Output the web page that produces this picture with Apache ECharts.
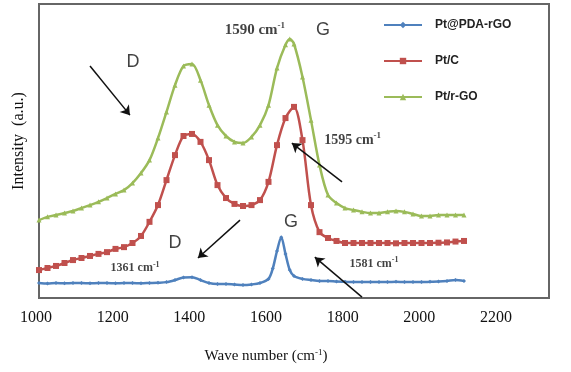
<!DOCTYPE html>
<html>
<head>
<meta charset="utf-8">
<script src="https://cdn.jsdelivr.net/npm/echarts@6/dist/echarts.min.js"></script>
<style>
  html, body { margin: 0; padding: 0; background: #fff; }
  #chart { width: 571px; height: 372px; }
</style>
</head>
<body>
<div id="chart"></div>
<script>
// x tick labels
const xMin = 1000
const xMax = 2200
const xStep = 200

// Pt@PDA-rGO (blue)
const blueX = [1000, 1020, 1040, 1060, 1080, 1100, 1120, 1140, 1160, 1180, 1200, 1220, 1240, 1260, 1280, 1300, 1320, 1340, 1360, 1380, 1400, 1420, 1440, 1460, 1480, 1500, 1520, 1540, 1550, 1560, 1570, 1580, 1590, 1600, 1620, 1640, 1660, 1680, 1700, 1720, 1740, 1760, 1780, 1800, 1820, 1840, 1860, 1880, 1900, 1920, 1940, 1960, 1980, 2000]
const blueY = [5.1, 4.9, 5.1, 5.0, 5.1, 5.1, 5.0, 5.1, 5.1, 5.0, 5.1, 5.1, 5.0, 5.1, 5.2, 5.4, 6.1, 7.0, 7.1, 6.1, 5.1, 4.8, 4.8, 4.6, 4.4, 4.6, 5.1, 6.5, 10.0, 16.0, 20.7, 15.0, 9.5, 7.5, 6.5, 6.1, 5.8, 5.8, 5.6, 5.5, 5.4, 5.4, 5.4, 5.4, 5.4, 5.5, 5.4, 5.4, 5.4, 5.5, 5.6, 5.8, 6.1, 5.8]

// Pt/C (red)
const redX = [1000, 1020, 1040, 1060, 1080, 1100, 1120, 1140, 1160, 1180, 1200, 1220, 1240, 1260, 1280, 1300, 1320, 1340, 1360, 1380, 1400, 1420, 1440, 1460, 1480, 1500, 1520, 1540, 1560, 1580, 1600, 1620, 1640, 1660, 1680, 1700, 1720, 1740, 1760, 1780, 1800, 1820, 1840, 1860, 1880, 1900, 1920, 1940, 1960, 1980, 2000]
const redY = [9.5, 10.2, 10.9, 11.9, 12.9, 13.6, 14.3, 15.0, 15.6, 16.7, 17.3, 18.7, 21.1, 25.9, 31.6, 40.1, 48.6, 55.1, 55.8, 53.1, 46.9, 38.4, 34.0, 32.0, 31.3, 31.6, 33.3, 39.5, 52.0, 61.2, 65.0, 53.7, 31.6, 22.4, 20.4, 19.4, 18.7, 18.7, 18.7, 18.7, 18.7, 18.7, 18.6, 18.7, 18.7, 18.7, 18.7, 18.8, 18.9, 19.2, 19.4]

// Pt/r-GO (green)
const greenX = [1000, 1020, 1040, 1060, 1080, 1100, 1120, 1140, 1160, 1180, 1200, 1220, 1240, 1260, 1280, 1300, 1320, 1340, 1360, 1380, 1400, 1420, 1440, 1460, 1480, 1500, 1520, 1540, 1560, 1580, 1590, 1600, 1620, 1640, 1660, 1680, 1700, 1720, 1740, 1760, 1780, 1800, 1820, 1840, 1860, 1880, 1900, 1920, 1940, 1960, 1980, 2000]
const greenY = [26.5, 27.6, 28.2, 28.9, 29.6, 30.6, 31.6, 32.7, 34.0, 35.4, 36.7, 39.1, 42.5, 46.9, 54.4, 63.3, 72.4, 78.9, 79.6, 74.1, 65.6, 58.8, 55.1, 53.1, 52.7, 54.8, 58.8, 65.6, 78.2, 86.1, 88.1, 86.4, 75.2, 60.5, 45.2, 35.0, 32.3, 30.6, 29.9, 29.3, 28.9, 28.9, 29.3, 29.6, 29.3, 28.6, 27.9, 27.9, 28.2, 28.2, 28.2, 28.2]

const seriesNames = ["Pt@PDA-rGO", "Pt/C", "Pt/r-GO"]
const colors = ["#4f81bd", "#c0504d", "#9bbb59"]

// annotations (data coords)
const annoX = [1221, 1668, 1508, 1738, 1320, 1593, 1226, 1788]
const annoY = [80.3, 91.2, 91.2, 53.7, 18.7, 25.9, 10.2, 11.6]
const annoText = ["D", "G", "1590", "1595", "D", "G", "1361", "1581"]
const annoStyle = ["letter", "letter", "big", "mid", "letter", "letter", "small", "small"]

// arrows: [fromX, fromY, toX, toY]
const arrows = [
  [1120, 78.9, 1214, 62.2],
  [1713, 39.5, 1595, 52.7],
  [1473, 26.5, 1374, 13.6],
  [1760, 0.3, 1649, 13.9],
]

const zip = (xs, ys) => xs.map((x, i) => [x, ys[i]])

const chart = echarts.init(document.getElementById("chart"), null, { renderer: "canvas" })

const serif = "'Liberation Serif', 'Times New Roman', serif"
const sans = "'Liberation Sans', Arial, sans-serif"

const labelRich = {
  letter: { fontFamily: sans, fontSize: 18, color: "#111" },
  big: { fontFamily: serif, fontSize: 15, fontWeight: "bold", color: "#111" },
  bigU: { fontFamily: serif, fontSize: 15, fontWeight: "bold", color: "#111" },
  bigS: { fontFamily: serif, fontSize: 9, fontWeight: "bold", color: "#111", padding: [0, 0, 9, 0] },
  mid: { fontFamily: serif, fontSize: 14, fontWeight: "bold", color: "#111" },
  midU: { fontFamily: serif, fontSize: 14, fontWeight: "bold", color: "#111" },
  midS: { fontFamily: serif, fontSize: 9, fontWeight: "bold", color: "#111", padding: [0, 0, 8, 0] },
  small: { fontFamily: serif, fontSize: 12, fontWeight: "bold", color: "#111" },
  smallU: { fontFamily: serif, fontSize: 12, fontWeight: "bold", color: "#111" },
  smallS: { fontFamily: serif, fontSize: 8, fontWeight: "bold", color: "#111", padding: [0, 0, 7, 0] },
}

function annoFormatter(p) {
  const st = annoStyle[p.dataIndex]
  const t = annoText[p.dataIndex]
  if (st === "letter") return `{letter|${t}}`
  return `{${st}|${t}}{${st}U| cm}{${st}S|-1}`
}

chart.setOption({
  animation: false,
  grid: [
    { left: 39, right: 22, top: 4, bottom: 74, show: true, borderColor: "#666", borderWidth: 2, outerBoundsMode: "none", containLabel: false },
    { left: 36, right: 75, top: 4, bottom: 74, outerBoundsMode: "none", containLabel: false },
  ],
  legend: {
    data: seriesNames,
    orient: "vertical",
    left: 378,
    top: 14,
    itemGap: 24,
    itemWidth: 38,
    itemHeight: 8,
    textStyle: { fontFamily: sans, fontSize: 12, fontWeight: "bold", color: "#222", padding: [0, 0, 0, 8] },
  },
  xAxis: [
    {
      type: "value", gridIndex: 0, min: xMin, max: xMax, interval: xStep,
      axisLine: { show: false }, axisTick: { show: false }, axisLabel: { show: false }, splitLine: { show: false },
    },
    {
      type: "value", gridIndex: 1, min: xMin, max: xMax, interval: xStep,
      axisLine: { show: false }, axisTick: { show: false }, splitLine: { show: false },
      axisLabel: { fontFamily: serif, fontSize: 16, color: "#111", margin: 12, formatter: (v) => String(v) },
      name: "{n|Wave number (cm}{s|-1}{n|)}",
      nameLocation: "middle",
      nameGap: 50,
      nameTextStyle: {
        rich: {
          n: { fontFamily: serif, fontSize: 15, color: "#111" },
          s: { fontFamily: serif, fontSize: 9, color: "#111", padding: [0, 0, 8, 0] },
        },
      },
    },
  ],
  yAxis: [
    {
      type: "value", gridIndex: 0, min: 0, max: 100,
      axisLine: { show: false }, axisTick: { show: false }, axisLabel: { show: false }, splitLine: { show: false },
      name: "Intensity  (a.u.)",
      nameLocation: "middle",
      nameGap: 12,
      nameRotate: 90,
      nameTextStyle: { fontFamily: serif, fontSize: 16, color: "#111", padding: [0, 0, 0, 20] },
    },
    {
      type: "value", gridIndex: 1, min: 0, max: 100, show: false,
    },
  ],
  series: [
    {
      name: seriesNames[0], type: "line", smooth: 0.3, data: zip(blueX, blueY),
      symbol: "diamond", symbolSize: 4, showAllSymbol: true,
      lineStyle: { color: colors[0], width: 2.5 }, itemStyle: { color: colors[0] },
    },
    {
      name: seriesNames[1], type: "line", smooth: 0.3, data: zip(redX, redY),
      symbol: "rect", symbolSize: 6, showAllSymbol: true,
      lineStyle: { color: colors[1], width: 2.5 }, itemStyle: { color: colors[1] },
    },
    {
      name: seriesNames[2], type: "line", smooth: 0.3, data: zip(greenX, greenY),
      symbol: "triangle", symbolSize: 5, showAllSymbol: true,
      lineStyle: { color: colors[2], width: 2.5 }, itemStyle: { color: colors[2] },
    },
    {
      name: "annotations", type: "scatter", symbolSize: 0,
      data: zip(annoX, annoY),
      label: { show: true, position: "inside", formatter: annoFormatter, rich: labelRich },
      markLine: {
        silent: true,
        symbol: ["none", "arrow"],
        symbolSize: 9,
        lineStyle: { color: "#111", width: 1.5, type: "solid" },
        label: { show: false },
        data: arrows.map((a) => [{ coord: [a[0], a[1]] }, { coord: [a[2], a[3]] }]),
      },
    },
  ],
})
</script>
</body>
</html>
